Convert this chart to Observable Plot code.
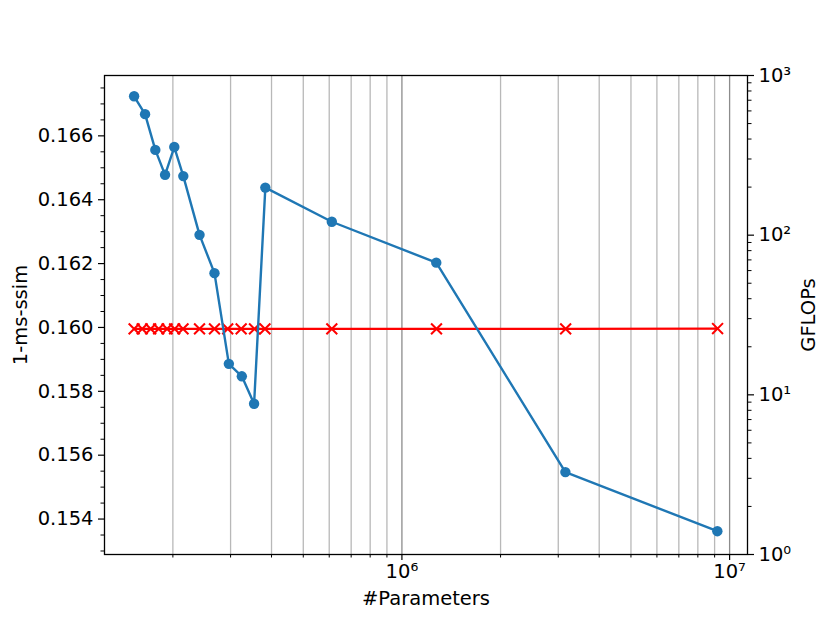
<!DOCTYPE html>
<html>
<head>
<meta charset="utf-8">
<script src="https://cdn.jsdelivr.net/npm/d3@7"></script>
<script src="https://cdn.jsdelivr.net/npm/@observablehq/plot@0.6"></script>
<style>
  html, body { margin: 0; padding: 0; background: #fff; }
  #chart { width: 830px; height: 623px; }
</style>
</head>
<body>
<div id="chart"></div>
<script>
// ---- data ----
const blueParams = [152300, 164500, 176800, 189300, 202000, 215200, 241200, 267900, 296400, 324700, 353900, 383000, 611000, 1273000, 3154000, 9175000];
const msssim     = [0.16724, 0.16668, 0.16556, 0.16478, 0.16565, 0.16474, 0.16290, 0.16170, 0.15886, 0.15847, 0.15761, 0.16438, 0.16331, 0.16203, 0.15547, 0.15362];

const redParams = [152300, 161200, 171100, 181000, 192000, 202500, 214800, 241200, 267900, 294000, 323200, 354900, 382000, 611000, 1275000, 3160000, 9190000];
const gflops    = [25.9, 25.9, 25.9, 25.9, 25.9, 25.9, 25.9, 25.9, 25.9, 25.9, 25.9, 25.9, 25.9, 25.9, 25.9, 25.9, 26.0];

// tick labels
const leftTicks = [0.154, 0.156, 0.158, 0.160, 0.162, 0.164, 0.166];
const xMajorTicks = [1e6, 1e7];
const xMajorLabels = ["10⁶", "10⁷"];
const rightMajorTicks = [1, 10, 100, 1000];
const rightMajorLabels = ["10⁰", "10¹", "10²", "10³"];

// axis domains
const xDomain = [1.237e5, 1.134e7];
const yDomain = [0.15289, 0.16789];
const gDomain = [1, 1000];

// ---- helpers ----
const lg = Math.log10;
// map GFLOPs (log right axis) onto the left linear scale's domain
const gToY = g => yDomain[0] + (lg(g) - lg(gDomain[0])) / (lg(gDomain[1]) - lg(gDomain[0])) * (yDomain[1] - yDomain[0]);

const leftMinor = d3.range(0.153, 0.1676, 0.0005).filter(v => !leftTicks.some(t => Math.abs(t - v) < 1e-7));
const xMinor = [];
for (const dec of [1e5, 1e6]) for (let m = 2; m <= 9; m++) xMinor.push(m * dec);
const xMinorIn = xMinor.filter(v => v >= xDomain[0] && v <= xDomain[1]);
const rightMinor = [];
for (const dec of [1, 10, 100]) for (let m = 2; m <= 9; m++) rightMinor.push(m * dec);

const xLabelOf = d => xMajorLabels[xMajorTicks.findIndex(t => Math.abs(t - d) / t < 1e-6)];
const rightPos = rightMajorTicks.map(gToY);
const rightLabelOf = d => rightMajorLabels[rightPos.findIndex(t => Math.abs(t - d) < 1e-9)];

const blue = blueParams.map((p, i) => ({p, v: msssim[i]}));
const red = redParams.map((p, i) => ({p, g: gflops[i]}));

const FS = 19.5;

const chart = Plot.plot({
  width: 830,
  height: 623,
  marginLeft: 104,
  marginRight: 83,
  marginTop: 75,
  marginBottom: 69,
  style: {fontFamily: "DejaVu Sans", fontSize: FS + "px", background: "#fff", color: "#000"},
  x: {type: "log", domain: xDomain},
  y: {type: "linear", domain: yDomain},
  marks: [
    // vertical grid
    Plot.ruleX(xMinorIn, {stroke: "#b8b8b8", strokeWidth: 1.3}),
    Plot.ruleX(xMajorTicks, {stroke: "#8c8c8c", strokeWidth: 1.3}),
    // left axis
    Plot.axisY(leftTicks, {anchor: "left", tickSize: 6, tickPadding: 5, tickFormat: d3.format(".3f"), fontSize: FS, label: null, strokeWidth: 1.2}),
    Plot.axisY(leftMinor, {anchor: "left", tickSize: 3.5, tickFormat: () => "", label: null, strokeWidth: 1}),
    // right axis (GFLOPs, log)
    Plot.axisY(rightPos, {anchor: "right", tickSize: 6, tickPadding: 5, tickFormat: rightLabelOf, fontSize: FS, label: null, strokeWidth: 1.2}),
    Plot.axisY(rightMinor.map(gToY), {anchor: "right", tickSize: 3.5, tickFormat: () => "", label: null, strokeWidth: 1}),
    // x axis
    Plot.axisX(xMinorIn, {anchor: "bottom", tickSize: 3.5, tickFormat: () => "", label: null, strokeWidth: 1}),
    Plot.axisX(xMajorTicks, {anchor: "bottom", tickSize: 6, tickPadding: 4, tickFormat: xLabelOf, fontSize: FS, label: null, strokeWidth: 1.2}),
    // red series (GFLOPs)
    Plot.line(red, {x: "p", y: d => gToY(d.g), stroke: "#ff0000", strokeWidth: 2.4}),
    Plot.dot(red, {x: "p", y: d => gToY(d.g), symbol: "times", r: 5, stroke: "#ff0000", strokeWidth: 2}),
    // blue series (1-ms-ssim)
    Plot.line(blue, {x: "p", y: "v", stroke: "#1f77b4", strokeWidth: 2.4}),
    Plot.dot(blue, {x: "p", y: "v", r: 5.2, fill: "#1f77b4", stroke: "none"}),
    // frame
    Plot.frame({stroke: "#000", strokeWidth: 1.3}),
    // axis titles
    Plot.text(["1-ms-ssim"], {text: d => d, frameAnchor: "left", dx: -84, rotate: -90, textAnchor: "middle", lineAnchor: "middle", fontSize: FS}),
    Plot.text(["GFLOPs"], {text: d => d, frameAnchor: "right", dx: 61, rotate: -90, textAnchor: "middle", lineAnchor: "middle", fontSize: FS}),
    Plot.text(["#Parameters"], {text: d => d, frameAnchor: "bottom", dy: 44, textAnchor: "middle", lineAnchor: "middle", fontSize: FS})
  ]
});
document.getElementById("chart").appendChild(chart);
</script>
</body>
</html>
